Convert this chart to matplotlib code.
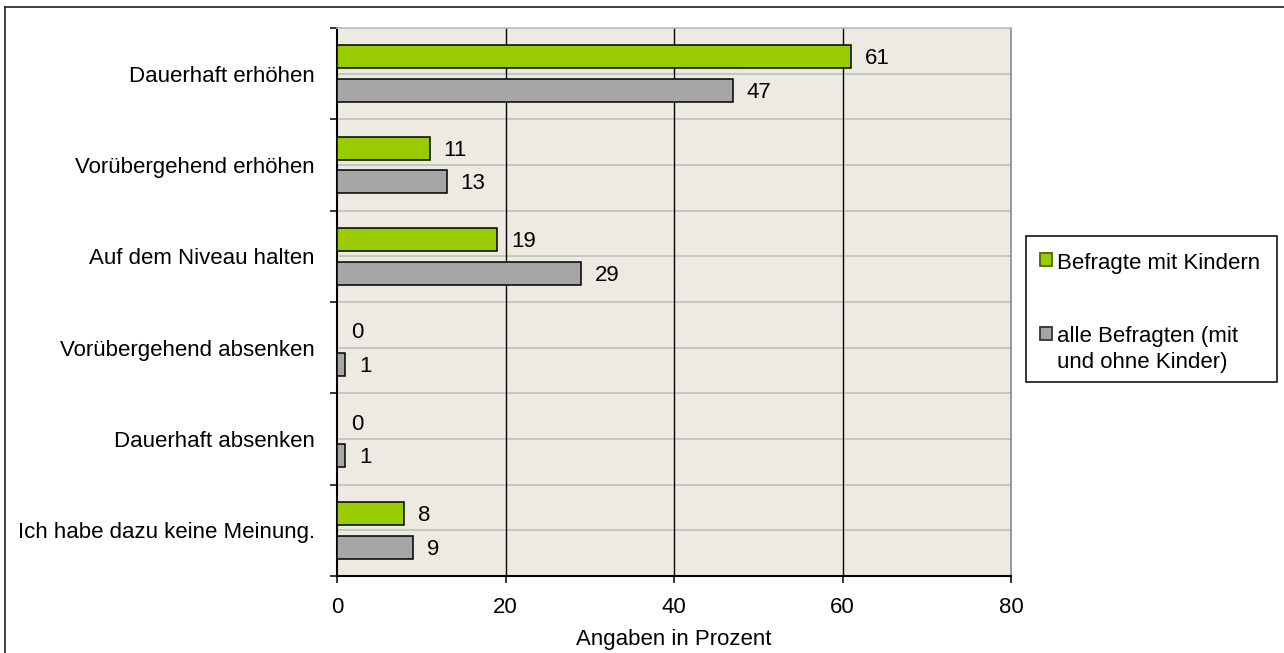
import matplotlib
matplotlib.use('Agg')
import matplotlib.pyplot as plt
from matplotlib.lines import Line2D
from matplotlib.patches import Rectangle
import numpy as np

categories = ["Dauerhaft erhöhen", "Vorübergehend erhöhen", "Auf dem Niveau halten",
              "Vorübergehend absenken", "Dauerhaft absenken", "Ich habe dazu keine Meinung."]
series_names = ["Befragte mit Kindern", "alle Befragten (mit\nund ohne Kinder)"]
with_children = [61, 11, 19, 0, 0, 8]
all_respondents = [47, 13, 29, 1, 1, 9]
x_ticks = [0, 20, 40, 60, 80]
x_label = "Angaben in Prozent"

W, H = 1284, 653
plt.rcParams['font.family'] = ['Liberation Sans', 'DejaVu Sans']
FS = 16
GREEN = '#99CC00'
GRAY = '#A6A6A6'

fig = plt.figure(figsize=(W / 100, H / 100), dpi=100)
fig.patch.set_facecolor('white')


def fx(x):
    return x / W


def fy(y):
    return 1 - y / H


L, R, T, B = 337, 1011, 28, 576
ax = fig.add_axes([fx(L), fy(B), fx(R) - fx(L), fy(T) - fy(B)])
ax.set_facecolor('#EDEBE1')

y = np.arange(len(categories))
off = 0.185
h = 0.25
b1 = ax.barh(y - off, with_children, height=h, color=GREEN, edgecolor='black', linewidth=1.1, zorder=3)
b2 = ax.barh(y + off, all_respondents, height=h, color=GRAY, edgecolor='black', linewidth=1.1, zorder=3)

for vals, pos in ((with_children, y - off), (all_respondents, y + off)):
    for v, p in zip(vals, pos):
        ax.annotate(str(v), (v, p), xytext=(10, -1.5), textcoords='offset points',
                    va='center', ha='left', fontsize=FS, zorder=4)

ax.set_xlim(x_ticks[0], x_ticks[-1])
ax.set_ylim(len(categories) - 0.5, -0.5)

for g in np.arange(-0.5, len(categories), 0.5):
    ax.axhline(g, color='#BFBFBF', lw=1.2, zorder=1)
for xv in x_ticks[1:-1]:
    ax.axvline(xv, color='black', lw=1.0, zorder=2)

for s in ('left', 'bottom'):
    ax.spines[s].set_color('black')
    ax.spines[s].set_linewidth(1.5)
ax.spines['top'].set_color('#BFBFBF')
ax.spines['top'].set_linewidth(1.2)
ax.spines['right'].set_color('#7F7F7F')
ax.spines['right'].set_linewidth(1.1)

ax.set_xticks(x_ticks)
ax.set_xticklabels([str(t) for t in x_ticks], fontsize=FS)
ax.tick_params(axis='x', direction='out', length=5, width=1.1, pad=10, color='black')
ax.set_yticks(y)
ax.set_yticklabels(categories, fontsize=FS)
ax.set_yticks(np.arange(-0.5, len(categories), 1.0), minor=True)
ax.tick_params(axis='y', which='major', length=0, pad=16)
ax.tick_params(axis='y', which='minor', direction='out', length=5, width=1.1, color='black')
ax.set_xlabel(x_label, fontsize=FS, labelpad=8)

# legend (drawn manually in figure pixels)
fig.patches.append(Rectangle((fx(1026), fy(382)), fx(1277) - fx(1026), fy(236) - fy(382),
                             transform=fig.transFigure, facecolor='white', edgecolor='black',
                             lw=1.1, zorder=5))
legend_entries = [(series_names[0], GREEN, '#4D6600', 253, [269]),
                  (series_names[1], GRAY, '#333333', 327, [342, 368])]
for name, fc, ec, top, baselines in legend_entries:
    fig.patches.append(Rectangle((fx(1040), fy(top + 13)), fx(12), 13 / H,
                                 transform=fig.transFigure, facecolor=fc, edgecolor=ec,
                                 lw=1.3, zorder=6))
    for line, bl in zip(name.split('\n'), baselines):
        fig.text(fx(1057), fy(bl), line, fontsize=FS, ha='left', va='baseline', zorder=6)

# outer frame (only left and top edges visible)
fig.lines.append(Line2D([fx(5), fx(5)], [fy(7), 0], transform=fig.transFigure, color='#222222', lw=1.2))
fig.lines.append(Line2D([fx(5), 1], [fy(7), fy(7)], transform=fig.transFigure, color='#222222', lw=1.2))

fig.savefig('out.png', dpi=100, facecolor='white')
